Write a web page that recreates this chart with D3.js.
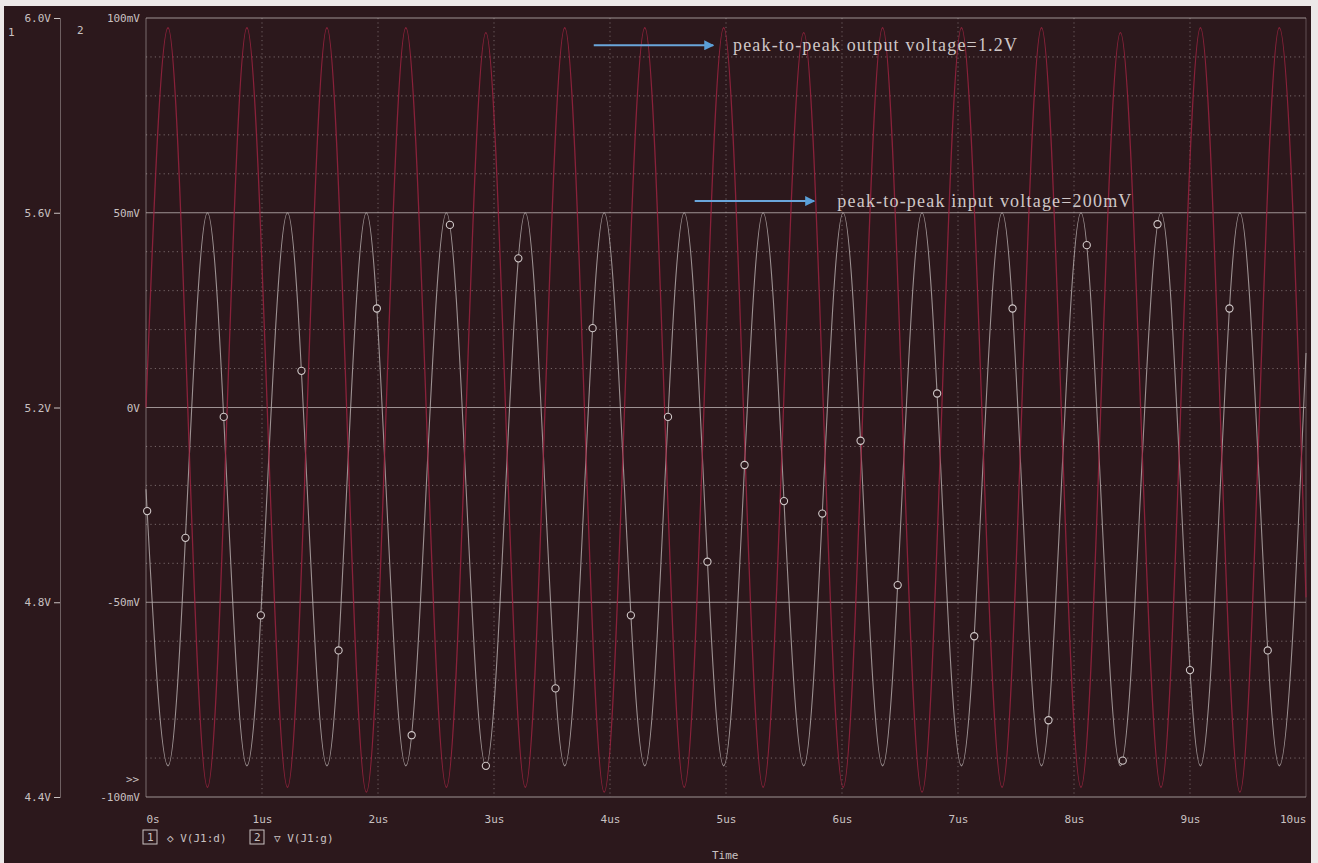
<!DOCTYPE html>
<html>
<head>
<meta charset="utf-8">
<script src="https://cdn.jsdelivr.net/npm/d3@7/dist/d3.min.js"></script>
<style>
  html, body { margin: 0; padding: 0; background: #ece8e8; }
  svg { display: block; }
  .lbl { font-family: "DejaVu Sans Mono", monospace; font-size: 11px; fill: #c9c1c1; }
  .note { font-family: "Liberation Serif", serif; font-size: 18px; fill: #cfc7c7; }
</style>
</head>
<body>
<svg id="chart" width="1318" height="863"></svg>
<script>
// time axis (us)
const timeTicks = [0, 1, 2, 3, 4, 5, 6, 7, 8, 9, 10];
const timeLabels = ['0s', '1us', '2us', '3us', '4us', '5us', '6us', '7us', '8us', '9us', '10us'];

// axis 1 (V) and axis 2 (mV)
const axis1Ticks = [4.4, 4.8, 5.2, 5.6, 6.0];
const axis2Ticks = [-100, -50, 0, 50, 100];
const axis2Labels = ['-100mV', '-50mV', '0V', '50mV', '100mV'];

// V(J1:d) output, read at start, peaks, troughs, end
const outT = [0, 0.19, 0.53, 0.87, 1.22, 1.56, 1.90, 2.24, 2.59, 2.93, 3.27, 3.61, 3.95, 4.30, 4.64,
  4.98, 5.32, 5.67, 6.01, 6.35, 6.69, 7.03, 7.38, 7.72, 8.06, 8.40, 8.75, 9.09, 9.43, 9.77, 10];
const outV = [5.20, 5.98, 4.42, 5.98, 4.42, 5.98, 4.41, 5.98, 4.42, 5.97, 4.42, 5.98, 4.41, 5.98, 4.42,
  5.98, 4.42, 5.97, 4.42, 5.98, 4.41, 5.98, 4.42, 5.98, 4.42, 5.97, 4.42, 5.98, 4.41, 5.98, 4.81];

// V(J1:g) input (mV)
const inT = outT;
const inV = [-21, -92, 50, -92, 50, -92, 50, -92, 50, -92, 50, -92, 50, -92, 50,
  -92, 50, -92, 50, -92, 50, -92, 50, -92, 50, -92, 50, -92, 50, -92, 14];

// symbol markers along V(J1:g) (us)
const inMarkT = [0.01, 0.34, 0.67, 0.99, 1.34, 1.66, 1.99, 2.29, 2.62, 2.93, 3.21, 3.53, 3.85, 4.18, 4.50,
  4.84, 5.16, 5.50, 5.83, 6.16, 6.48, 6.82, 7.14, 7.47, 7.78, 8.11, 8.42, 8.72, 9.00, 9.34, 9.67];

const legendNames = ['V(J1:d)', 'V(J1:g)'];
const legendSymbols = ['\u25C7', '\u25BD'];

const notes = [
  { text: 'peak-to-peak output voltage=1.2V', t0: 3.86, t1: 4.89, v: 93, tx: 5.06, len: 284 },
  { text: 'peak-to-peak input voltage=200mV', t0: 4.73, t1: 5.76, v: 53, tx: 5.96, len: 294 }
];

const svg = d3.select('#chart');
const H = 863;

svg.append('rect').attr('x', 4).attr('y', 6).attr('width', 1307).attr('height', H - 6).attr('fill', '#2c181c');

const x = d3.scaleLinear().domain([0, 10]).range([146, 1306]);
const y1 = d3.scaleLinear().domain([4.4, 6.0]).range([797, 18]);
const y2 = d3.scaleLinear().domain([-100, 100]).range([797, 18]);

// grid: minor dotted every 10mV, major solid at labelled ticks
const minor = d3.range(-90, 100, 10).filter(v => v % 50 !== 0);
svg.append('g').selectAll('line').data(minor).join('line')
  .attr('x1', x(0)).attr('x2', x(10))
  .attr('y1', d => y2(d)).attr('y2', d => y2(d))
  .attr('stroke', '#a89d9d').attr('stroke-opacity', 0.6)
  .attr('stroke-dasharray', '1.2,3.2');

svg.append('g').selectAll('line').data(timeTicks.slice(1, -1)).join('line')
  .attr('x1', d => x(d)).attr('x2', d => x(d))
  .attr('y1', y2(100)).attr('y2', y2(-100))
  .attr('stroke', '#a89d9d').attr('stroke-opacity', 0.55)
  .attr('stroke-dasharray', '1.2,3.2');

svg.append('g').selectAll('line').data(axis2Ticks).join('line')
  .attr('x1', x(0)).attr('x2', x(10))
  .attr('y1', d => y2(d)).attr('y2', d => y2(d))
  .attr('stroke', '#c4bbbb').attr('stroke-opacity', 0.75);

svg.append('line').attr('x1', x(0)).attr('x2', x(0)).attr('y1', y2(100)).attr('y2', y2(-100))
  .attr('stroke', '#c4bbbb').attr('stroke-opacity', 0.5);
svg.append('line').attr('x1', x(10)).attr('x2', x(10)).attr('y1', y2(100)).attr('y2', y2(-100))
  .attr('stroke', '#c4bbbb').attr('stroke-opacity', 0.35);

// axes
const ax1 = svg.append('g').attr('transform', 'translate(60,0)')
  .call(d3.axisLeft(y1).tickValues(axis1Ticks).tickSize(6).tickPadding(3).tickFormat(d => d3.format('.1f')(d) + 'V'));
ax1.select('.domain').attr('stroke', '#b0a6a6').attr('stroke-opacity', 0.5);
ax1.selectAll('.tick line').attr('stroke', '#c9c1c1');
ax1.selectAll('text').attr('class', 'lbl').attr('fill', null);

const ax2 = svg.append('g').attr('transform', 'translate(146,0)')
  .call(d3.axisLeft(y2).tickValues(axis2Ticks).tickSize(0).tickPadding(6).tickFormat((d, i) => axis2Labels[i]));
ax2.select('.domain').remove();
ax2.selectAll('text').attr('class', 'lbl').attr('fill', null);

const axX = svg.append('g').attr('transform', 'translate(0,797)')
  .call(d3.axisBottom(x).tickValues(timeTicks).tickSize(0).tickPadding(18).tickFormat((d, i) => timeLabels[i]));
axX.select('.domain').remove();
axX.selectAll('text').attr('class', 'lbl').attr('fill', null)
  .attr('text-anchor', (d, i) => i === 0 ? 'start' : (i === timeTicks.length - 1 ? 'end' : 'middle'));

svg.append('text').attr('class', 'lbl').attr('x', 8).attr('y', 36).text('1');
svg.append('text').attr('class', 'lbl').attr('x', 77).attr('y', 34).text('2');
svg.append('text').attr('class', 'lbl').attr('x', 126).attr('y', 783).text('>>');
svg.append('text').attr('class', 'lbl').attr('x', 712).attr('y', 859).text('Time');

// traces
const lineOut = d3.line().x((d, i) => x(outT[i])).y(d => y1(d)).curve(d3.curveMonotoneX);
const lineIn = d3.line().x((d, i) => x(inT[i])).y(d => y2(d)).curve(d3.curveMonotoneX);

const inPath = svg.append('path').datum(inV).attr('d', lineIn)
  .attr('fill', 'none').attr('stroke', '#b9b0b0').attr('stroke-opacity', 0.8).attr('stroke-width', 1.1);

svg.append('path').datum(outV).attr('d', lineOut)
  .attr('fill', 'none').attr('stroke', '#9a2340').attr('stroke-opacity', 0.85).attr('stroke-width', 1.3);

// place symbols on the drawn V(J1:g) curve
const node = inPath.node();
const total = node.getTotalLength();
function yOnPath(px) {
  let lo = 0, hi = total;
  for (let k = 0; k < 40; k++) {
    const mid = (lo + hi) / 2;
    if (node.getPointAtLength(mid).x < px) lo = mid; else hi = mid;
  }
  return node.getPointAtLength(hi).y;
}
svg.append('g').selectAll('circle').data(inMarkT).join('circle')
  .attr('cx', d => x(d)).attr('cy', d => yOnPath(x(d))).attr('r', 3.6)
  .attr('fill', '#2c181c').attr('stroke', '#d2caca').attr('stroke-width', 1.1);

// legend
const leg = svg.append('g').attr('transform', 'translate(143,830)');
legendNames.forEach((name, i) => {
  const g = leg.append('g').attr('transform', `translate(${i * 107},0)`);
  g.append('rect').attr('width', 14).attr('height', 14).attr('fill', 'none').attr('stroke', '#c9c1c1');
  g.append('text').attr('class', 'lbl').attr('x', 4).attr('y', 11).text(String(i + 1));
  g.append('text').attr('class', 'lbl').attr('x', 24).attr('y', 12).text(legendSymbols[i] + ' ' + name);
});

// annotations
svg.append('defs').append('marker').attr('id', 'ah')
  .attr('viewBox', '0 0 10 10').attr('refX', 9).attr('refY', 5)
  .attr('markerWidth', 5).attr('markerHeight', 5).attr('orient', 'auto')
  .append('path').attr('d', 'M0,0L10,5L0,10Z').attr('fill', '#5a9fd8');

notes.forEach(n => {
  svg.append('line').attr('x1', x(n.t0)).attr('x2', x(n.t1)).attr('y1', y2(n.v)).attr('y2', y2(n.v))
    .attr('stroke', '#6aa6db').attr('stroke-width', 2).attr('marker-end', 'url(#ah)');
  svg.append('text').attr('class', 'note').attr('x', x(n.tx)).attr('y', y2(n.v) + 6)
    .attr('textLength', n.len).attr('lengthAdjust', 'spacing').text(n.text);
});
</script>
</body>
</html>
